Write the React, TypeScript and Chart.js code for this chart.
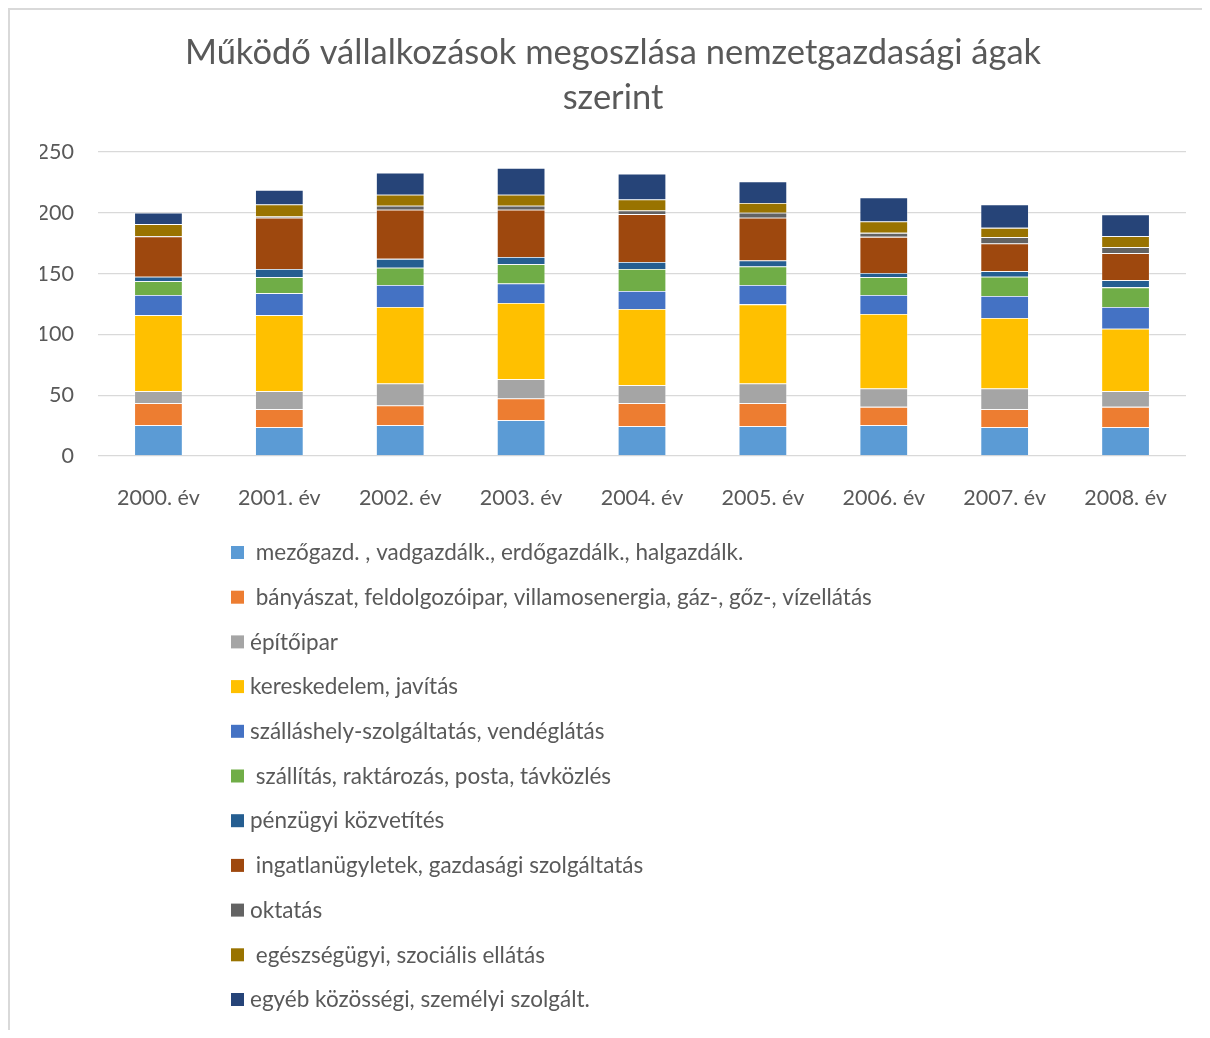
import React, { useEffect, useRef } from "react";
import { Chart, registerables } from "chart.js";

Chart.register(...registerables);

const categories = ["2000. év", "2001. év", "2002. év", "2003. év", "2004. év", "2005. év", "2006. év", "2007. év", "2008. év"];

const seriesLabels = [
  " mezőgazd. , vadgazdálk., erdőgazdálk., halgazdálk.",
  " bányászat, feldolgozóipar, villamosenergia, gáz-, gőz-, vízellátás",
  "építőipar",
  "kereskedelem, javítás",
  "szálláshely-szolgáltatás, vendéglátás",
  " szállítás, raktározás, posta, távközlés",
  "pénzügyi közvetítés",
  " ingatlanügyletek, gazdasági szolgáltatás",
  "oktatás",
  " egészségügyi, szociális ellátás",
  "egyéb közösségi, személyi szolgált.",
];

const seriesColors = ["#5B9BD5", "#ED7D31", "#A5A5A5", "#FFC000", "#4472C4", "#70AD47", "#255E91", "#9E480E", "#636363", "#997300", "#264478"];

const mezogazd = [25.3, 23.6, 25.3, 29.4, 24.5, 24.5, 25.3, 23.6, 23.6];
const banyaszat = [18.1, 14.9, 16.2, 17.9, 18.9, 18.9, 15.1, 14.9, 16.8];
const epitoipar = [9.9, 14.8, 18.1, 15.9, 14.8, 16.2, 15.1, 17.0, 12.9];
const kereskedelem = [62.4, 62.4, 62.9, 62.6, 62.7, 65.1, 61.3, 58.0, 51.4];
const szallashely = [16.7, 18.1, 18.2, 16.0, 14.8, 16.0, 15.6, 18.1, 17.8];
const szallitas = [11.3, 13.2, 14.2, 15.9, 18.1, 15.1, 14.6, 15.9, 16.2];
const penzugyi = [3.8, 6.8, 7.2, 6.0, 5.8, 4.9, 3.5, 4.4, 5.8];
const ingatlan = [33.0, 42.1, 40.4, 38.8, 39.3, 35.2, 29.7, 22.8, 22.3];
const oktatas = [0.5, 1.0, 3.3, 3.3, 3.0, 4.1, 3.3, 5.2, 4.9];
const egeszseg = [9.7, 10.0, 9.0, 9.0, 9.1, 8.0, 9.4, 7.7, 9.1];
const egyeb = [9.3, 11.8, 18.2, 22.0, 21.1, 17.8, 19.7, 19.3, 17.8];

const seriesValues = [mezogazd, banyaszat, epitoipar, kereskedelem, szallashely, szallitas, penzugyi, ingatlan, oktatas, egeszseg, egyeb];

const yTicks = [0, 50, 100, 150, 200, 250];

const titleLines = ["Működő vállalkozások megoszlása nemzetgazdasági ágak", "szerint"];

const FONT = "Lato, 'Open Sans', sans-serif";
const TEXT_COLOR = "#595959";

const legendPlugin = {
  id: "stackedListLegend",
  afterDraw(chart: any) {
    const ctx = chart.ctx;
    ctx.save();
    ctx.font = `22.5px ${FONT}`;
    ctx.textBaseline = "middle";
    ctx.textAlign = "left";
    const startY = 545;
    const step = 44.7;
    chart.data.datasets.forEach((ds: any, i: number) => {
      const y = startY + i * step;
      ctx.fillStyle = ds.backgroundColor;
      ctx.fillRect(223, y - 7, 13, 13);
      ctx.fillStyle = TEXT_COLOR;
      ctx.fillText(ds.label, 242, y);
    });
    ctx.restore();
  },
};

export default function App() {
  const canvasRef = useRef<HTMLCanvasElement | null>(null);

  useEffect(() => {
    if (!canvasRef.current) return;
    const chart = new Chart(canvasRef.current, {
      type: "bar",
      data: {
        labels: categories,
        datasets: seriesLabels.map((label, i) => ({
          label,
          data: seriesValues[i],
          backgroundColor: seriesColors[i],
          borderColor: "rgba(255,255,255,0.45)",
          borderWidth: 0.8,
          barPercentage: 0.4,
          categoryPercentage: 1,
        })),
      },
      options: {
        responsive: false,
        animation: false,
        layout: { padding: { left: 32, right: 16, top: 0, bottom: 514 } },
        plugins: {
          legend: { display: false },
          tooltip: { enabled: false },
          title: {
            display: true,
            text: titleLines,
            color: TEXT_COLOR,
            font: { family: FONT, size: 34.5, weight: "normal", lineHeight: 1.304 },
            padding: { top: 22, bottom: 32 },
          },
        },
        scales: {
          x: {
            stacked: true,
            grid: { display: false },
            border: { display: false },
            ticks: { color: TEXT_COLOR, font: { family: FONT, size: 21.5 }, padding: 21, maxRotation: 0 },
            afterFit: (scale: any) => {
              scale.height = 60;
            },
          },
          y: {
            stacked: true,
            min: 0,
            max: 250,
            afterBuildTicks: (scale: any) => {
              scale.ticks = yTicks.map((v) => ({ value: v }));
            },
            grid: { color: "#d9d9d9", lineWidth: 1.3, drawTicks: false },
            border: { display: false },
            ticks: { color: TEXT_COLOR, font: { family: FONT, size: 21.5 }, padding: 24 },
            afterFit: (scale: any) => {
              scale.width = 58;
            },
          },
        },
      },
      plugins: [legendPlugin],
    });
    return () => chart.destroy();
  }, []);

  return (
    <div style={{ position: "relative", width: 1194, height: 1022, overflow: "hidden", background: "#fff" }}>
      <canvas ref={canvasRef} width={1194} height={1022} style={{ display: "block" }} />
      <div
        style={{
          position: "absolute",
          left: 0,
          top: 0,
          width: 1400,
          height: 1400,
          borderLeft: "2px solid #d9d9d9",
          borderTop: "2px solid #d9d9d9",
          pointerEvents: "none",
        }}
      />
    </div>
  );
}
